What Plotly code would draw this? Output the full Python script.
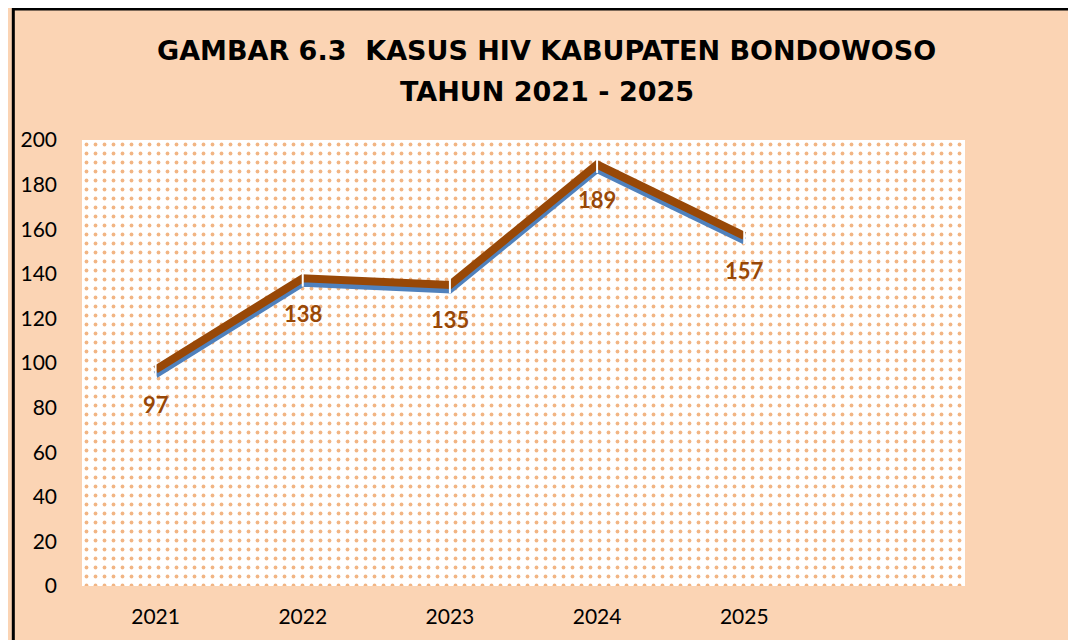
import plotly.graph_objects as go

years = ["2021", "2022", "2023", "2024", "2025"]
cases = [97, 138, 135, 189, 157]
y_ticks = [0, 20, 40, 60, 80, 100, 120, 140, 160, 180, 200]
title_line1 = "GAMBAR 6.3  KASUS HIV KABUPATEN BONDOWOSO"
title_line2 = "TAHUN 2021 - 2025"

# page has an 8px body margin; figure coordinates are page coordinates - 8
OFF = 8
W, H = 1076, 640
L, T = 78 - OFF, 140 - OFF
R = W - (965 - OFF)
B = H - (586 - OFF)
pw, ph = W - L - R, H - T - B

xs = list(range(len(years)))
x_min, x_max = -0.5, len(years) + 0.5
y_min, y_max = 0, 200
shadow_px = 5
shadow_d = shadow_px * (y_max - y_min) / ph

fig = go.Figure()

# patterned plot background
fig.add_trace(go.Scatter(
    x=[x_min, x_max, x_max, x_min, x_min],
    y=[y_min, y_min, y_max, y_max, y_min],
    fill="toself", mode="none", hoverinfo="skip", showlegend=False,
    fillcolor="white",
    fillpattern=dict(shape=".", fgcolor="#E46C0A", bgcolor="white",
                     size=9, solidity=0.14),
))

# blue shadow line (on shifted overlay axis)
fig.add_trace(go.Scatter(
    x=xs, y=cases, mode="lines", yaxis="y2", showlegend=False,
    line=dict(color="#4F81BD", width=7), hoverinfo="skip",
))

# main brown line (top-most overlay axis)
fig.add_trace(go.Scatter(
    x=xs, y=cases, mode="lines+markers", yaxis="y3", showlegend=False,
    line=dict(color="#984807", width=8),
    marker=dict(symbol="line-ns", size=12, line=dict(color="white", width=2)),
))

for xi, v in zip(xs, cases):
    fig.add_annotation(x=xi, y=v, text=f"<b>{v}</b>", showarrow=False,
                       yshift=-35, font=dict(family="Lato", size=22, color="#984807"))

fig.add_annotation(xref="paper", yref="paper", x=(545 - OFF - L) / pw,
                   y=(H - B - (51 - OFF)) / ph,
                   text=f"<b>{title_line1}</b>", showarrow=False, yanchor="middle",
                   font=dict(family="DejaVu Sans", size=27, color="black"))
fig.add_annotation(xref="paper", yref="paper", x=(545 - OFF - L) / pw,
                   y=(H - B - (91 - OFF)) / ph,
                   text=f"<b>{title_line2}</b>", showarrow=False, yanchor="middle",
                   font=dict(family="DejaVu Sans", size=27, color="black"))

# outer border (cropped on right/bottom)
fig.add_shape(type="rect", xref="paper", yref="paper",
              x0=(9 - OFF - L) / pw, x1=(W + 10 - L) / pw,
              y0=-(B + 10) / ph, y1=(H - B - (9 - OFF)) / ph,
              line=dict(color="black", width=3), fillcolor="rgba(0,0,0,0)", layer="above")

fig.update_layout(
    width=W, height=H,
    margin=dict(l=L, r=R, t=T, b=B, pad=0),
    paper_bgcolor="#FBD4B4", plot_bgcolor="#FBD4B4",
    xaxis=dict(range=[x_min, x_max], tickvals=xs, ticktext=years,
               showgrid=False, zeroline=False, showline=False, ticks="",
               ticklabelstandoff=16,
               tickfont=dict(family="Lato", size=21, color="black")),
    yaxis=dict(range=[y_min, y_max], tickvals=y_ticks,
               showgrid=False, zeroline=False, showline=False, ticks="",
               ticklabelstandoff=24,
               tickfont=dict(family="Lato", size=21, color="black")),
    yaxis2=dict(range=[y_min + shadow_d, y_max + shadow_d], overlaying="y",
                visible=False),
    yaxis3=dict(range=[y_min, y_max], overlaying="y", visible=False),
)

fig.write_html("out.html")
